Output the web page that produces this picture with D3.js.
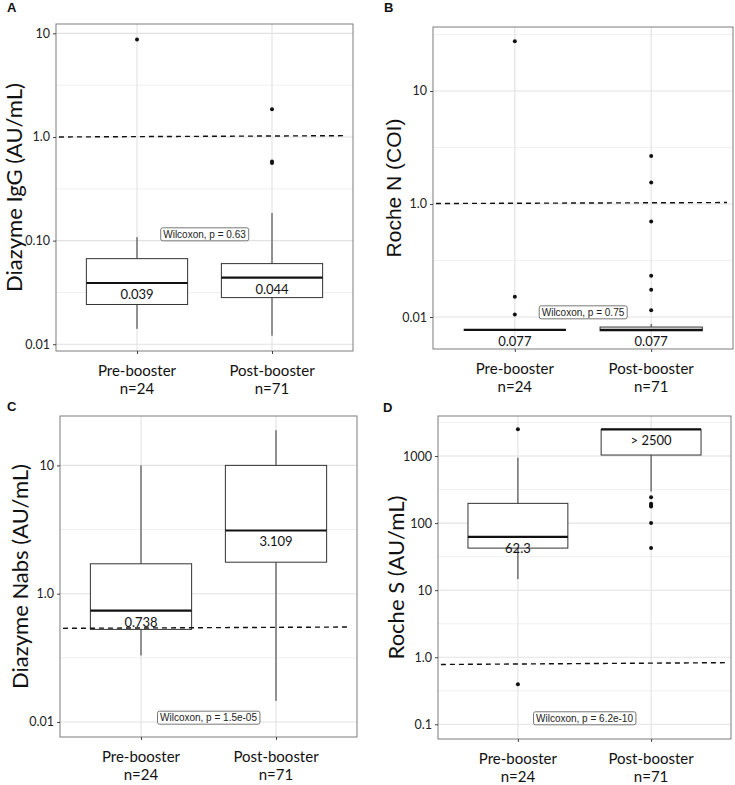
<!DOCTYPE html>
<html><head><meta charset="utf-8">
<script src="https://cdn.jsdelivr.net/npm/d3@7"></script>
<style>body{margin:0;background:#fff;} svg{display:block;}</style>
</head><body>
<svg id="chart" width="735" height="785"></svg>
<script>
// ---------- shared ----------
const categories = ["Pre-booster", "Post-booster"];
const groupSizes = ["n=24", "n=71"];

// ---------- Panel A: Diazyme IgG ----------
const iggLowerWhisker = [0.0141, 0.0121];
const iggQ1 = [0.0242, 0.0282];
const iggMedian = [0.039, 0.044];
const iggQ3 = [0.067, 0.060];
const iggUpperWhisker = [0.108, 0.185];
const iggOutliers = [[8.7], [1.85, 0.58, 0.56]];
const iggMedianLabels = ["0.039", "0.044"];
const iggCutoff = [1.0, 1.03];
const iggTicks = [10, 1, 0.1, 0.01];
const iggTickLabels = ["10", "1.0", "0.10", "0.01"];
const iggTest = "Wilcoxon, p = 0.63";
const iggTestY = 0.115;

// ---------- Panel B: Roche N ----------
const rocheNLowerWhisker = [0.077, 0.0755];
const rocheNQ1 = [0.077, 0.0755];
const rocheNMedian = [0.077, 0.077];
const rocheNQ3 = [0.077, 0.0815];
const rocheNUpperWhisker = [0.077, 0.0867];
const rocheNOutliers = [[27.5, 0.151, 0.105], [2.66, 1.55, 0.70, 0.232, 0.174, 0.115]];
const rocheNMedianLabels = ["0.077", "0.077"];
const rocheNCutoff = [1.01, 1.03];
const rocheNTicks = [10, 1, 0.1];
const rocheNTickLabels = ["10", "1.0", "0.01"];
const rocheNTest = "Wilcoxon, p = 0.75";
const rocheNTestY = 0.11;

// ---------- Panel C: Diazyme Nabs ----------
const nabsLowerWhisker = [0.33, 0.146];
const nabsQ1 = [0.527, 1.76];
const nabsMedian = [0.738, 3.109];
const nabsQ3 = [1.71, 10];
const nabsUpperWhisker = [10, 18.8];
const nabsOutliers = [[], []];
const nabsMedianLabels = ["0.738", "3.109"];
const nabsCutoff = [0.537, 0.55];
const nabsTicks = [10, 1, 0.1];
const nabsTickLabels = ["10", "1.0", "0.01"];
const nabsTest = "Wilcoxon, p = 1.5e-05";
const nabsTestY = 0.108;

// ---------- Panel D: Roche S ----------
const rocheSLowerWhisker = [14.6, 295];
const rocheSQ1 = [42.4, 1035];
const rocheSMedian = [62.3, 2500];
const rocheSQ3 = [197, 2500];
const rocheSUpperWhisker = [944, 2500];
const rocheSOutliers = [[2510, 0.395], [244, 194, 186, 177, 100, 42.7]];
const rocheSMedianLabels = ["62.3", "> 2500"];
const rocheSCutoff = [0.78, 0.83];
const rocheSTicks = [1000, 100, 10, 1, 0.1];
const rocheSTickLabels = ["1000", "100", "10", "1.0", "0.1"];
const rocheSTest = "Wilcoxon, p = 6.2e-10";
const rocheSTestY = 0.123;

// ---------- drawing ----------
const svg = d3.select("#chart");
const CAL = "Lato, 'Open Sans', sans-serif";
const ARIAL = "'Liberation Sans', Arial, sans-serif";

function panel(cfg) {
  const {frame, logDomain} = cfg;
  const g = svg.append("g");
  const x = d3.scalePoint().domain(categories).range([frame.left, frame.right]).padding(0.6);
  const y = d3.scaleLog().domain([Math.pow(10, logDomain[0]), Math.pow(10, logDomain[1])])
              .range([frame.bottom, frame.top]);
  const step = x.step();
  const bw = step * 0.75;

  // minor grid
  const minors = [];
  for (let k = Math.floor(logDomain[0]) - 1; k <= Math.ceil(logDomain[1]); k++) {
    const v = k + 0.5;
    if (v > logDomain[0] && v < logDomain[1]) minors.push(Math.pow(10, v));
  }
  g.selectAll(".minor").data(minors).join("line")
    .attr("x1", frame.left).attr("x2", frame.right)
    .attr("y1", d => y(d)).attr("y2", d => y(d))
    .attr("stroke", "#f1f1f1").attr("stroke-width", 1);
  // major grid
  g.selectAll(".majorY").data(cfg.ticks).join("line")
    .attr("x1", frame.left).attr("x2", frame.right)
    .attr("y1", d => y(d)).attr("y2", d => y(d))
    .attr("stroke", "#e2e2e2").attr("stroke-width", 1.1);
  g.selectAll(".majorX").data(categories).join("line")
    .attr("x1", d => x(d)).attr("x2", d => x(d))
    .attr("y1", frame.top).attr("y2", frame.bottom)
    .attr("stroke", "#e2e2e2").attr("stroke-width", 1.1);

  // boxes
  categories.forEach((c, i) => {
    const cx = x(c);
    const bg = g.append("g");
    bg.append("line").attr("x1", cx).attr("x2", cx)
      .attr("y1", y(cfg.q3[i])).attr("y2", y(cfg.upper[i]))
      .attr("stroke", "#333").attr("stroke-width", 1);
    bg.append("line").attr("x1", cx).attr("x2", cx)
      .attr("y1", y(cfg.q1[i])).attr("y2", y(cfg.lower[i]))
      .attr("stroke", "#333").attr("stroke-width", 1);
    bg.append("rect").attr("x", cx - bw / 2).attr("width", bw)
      .attr("y", y(cfg.q3[i])).attr("height", Math.max(0, y(cfg.q1[i]) - y(cfg.q3[i])))
      .attr("fill", "#fff").attr("stroke", "#333").attr("stroke-width", 1);
    bg.append("line").attr("x1", cx - bw / 2).attr("x2", cx + bw / 2)
      .attr("y1", y(cfg.median[i])).attr("y2", y(cfg.median[i]))
      .attr("stroke", "#111").attr("stroke-width", 2.2);
    bg.selectAll("circle").data(cfg.outliers[i]).join("circle")
      .attr("cx", cx).attr("cy", d => y(d)).attr("r", 2).attr("fill", "#111");
    bg.append("text").attr("x", cx).attr("y", y(cfg.median[i]) + 16)
      .attr("text-anchor", "middle").attr("font-family", CAL).attr("font-size", 13)
      .attr("fill", "#111").text(cfg.medianLabels[i]);
  });

  // cutoff line
  const w = frame.right - frame.left;
  g.append("line")
    .attr("x1", frame.left + 0.01 * w).attr("x2", frame.right - 0.02 * w)
    .attr("y1", y(cfg.cutoff[0])).attr("y2", y(cfg.cutoff[1]))
    .attr("stroke", "#111").attr("stroke-width", 1.4).attr("stroke-dasharray", "5,4");

  // test label
  const tx = (x(categories[0]) + x(categories[1])) / 2;
  const ty = y(cfg.testY);
  const tl = g.append("g");
  const txt = tl.append("text").attr("x", tx).attr("y", ty + 3.5)
    .attr("text-anchor", "middle").attr("font-family", ARIAL).attr("font-size", 10)
    .attr("fill", "#222").text(cfg.test);
  const bb = txt.node().getBBox();
  tl.insert("rect", "text").attr("x", bb.x - 2.5).attr("y", ty - 6.5)
    .attr("width", bb.width + 5).attr("height", 13).attr("rx", 2)
    .attr("fill", "#fff").attr("stroke", "#555").attr("stroke-width", 0.8);

  // border
  g.append("rect").attr("x", frame.left).attr("y", frame.top)
    .attr("width", w).attr("height", frame.bottom - frame.top)
    .attr("fill", "none").attr("stroke", "#7d7d7d").attr("stroke-width", 1);

  // y axis
  const ya = g.append("g").attr("transform", `translate(${frame.left},0)`)
    .call(d3.axisLeft(y).tickValues(cfg.ticks).tickSize(3).tickPadding(3)
      .tickFormat((d, i) => cfg.tickLabels[i]));
  ya.select(".domain").remove();
  ya.selectAll("line").attr("stroke", "#444");
  ya.selectAll("text").attr("font-family", CAL).attr("font-size", 12.5).attr("fill", "#222");

  // x axis
  const xa = g.append("g").attr("transform", `translate(0,${frame.bottom})`)
    .call(d3.axisBottom(x).tickSize(3).tickFormat(""));
  xa.select(".domain").remove();
  xa.selectAll("line").attr("stroke", "#444");
  categories.forEach((c, i) => {
    g.append("text").attr("x", x(c)).attr("y", frame.bottom + 25)
      .attr("text-anchor", "middle").attr("font-family", CAL).attr("font-size", 15)
      .attr("fill", "#111").text(c);
    g.append("text").attr("x", x(c)).attr("y", frame.bottom + 43)
      .attr("text-anchor", "middle").attr("font-family", CAL).attr("font-size", 15)
      .attr("fill", "#111").text(groupSizes[i]);
  });

  // y title
  g.append("text")
    .attr("transform", `translate(${cfg.titleX},${(frame.top + frame.bottom) / 2}) rotate(-90)`)
    .attr("text-anchor", "middle").attr("font-family", cfg.titleFont)
    .attr("font-size", cfg.titleSize).attr("fill", "#111").text(cfg.title);

  // panel letter
  g.append("text").attr("x", cfg.letterPos[0]).attr("y", cfg.letterPos[1])
    .attr("font-family", ARIAL).attr("font-weight", "bold").attr("font-size", 13)
    .attr("fill", "#111").text(cfg.letter);
}

panel({
  letter: "A", letterPos: [7, 12],
  title: "Diazyme IgG (AU/mL)", titleFont: CAL, titleSize: 22, titleX: 22,
  frame: {left: 56, right: 353, top: 24, bottom: 351}, logDomain: [-2.065, 1.09],
  lower: iggLowerWhisker, q1: iggQ1, median: iggMedian, q3: iggQ3, upper: iggUpperWhisker,
  outliers: iggOutliers, medianLabels: iggMedianLabels, cutoff: iggCutoff,
  ticks: iggTicks, tickLabels: iggTickLabels, test: iggTest, testY: iggTestY
});
panel({
  letter: "B", letterPos: [384, 12],
  title: "Roche N (COI)", titleFont: ARIAL, titleSize: 21, titleX: 401,
  frame: {left: 433, right: 733, top: 27, bottom: 349}, logDomain: [-1.283, 1.566],
  lower: rocheNLowerWhisker, q1: rocheNQ1, median: rocheNMedian, q3: rocheNQ3, upper: rocheNUpperWhisker,
  outliers: rocheNOutliers, medianLabels: rocheNMedianLabels, cutoff: rocheNCutoff,
  ticks: rocheNTicks, tickLabels: rocheNTickLabels, test: rocheNTest, testY: rocheNTestY
});
panel({
  letter: "C", letterPos: [7, 411],
  title: "Diazyme Nabs (AU/mL)", titleFont: CAL, titleSize: 22, titleX: 28,
  frame: {left: 60, right: 357, top: 416, bottom: 737}, logDomain: [-1.117, 1.385],
  lower: nabsLowerWhisker, q1: nabsQ1, median: nabsMedian, q3: nabsQ3, upper: nabsUpperWhisker,
  outliers: nabsOutliers, medianLabels: nabsMedianLabels, cutoff: nabsCutoff,
  ticks: nabsTicks, tickLabels: nabsTickLabels, test: nabsTest, testY: nabsTestY
});
panel({
  letter: "D", letterPos: [383, 412],
  title: "Roche S (AU/mL)", titleFont: CAL, titleSize: 22, titleX: 404,
  frame: {left: 438, right: 731, top: 416, bottom: 739}, logDomain: [-1.219, 3.597],
  lower: rocheSLowerWhisker, q1: rocheSQ1, median: rocheSMedian, q3: rocheSQ3, upper: rocheSUpperWhisker,
  outliers: rocheSOutliers, medianLabels: rocheSMedianLabels, cutoff: rocheSCutoff,
  ticks: rocheSTicks, tickLabels: rocheSTickLabels, test: rocheSTest, testY: rocheSTestY
});
</script>
</body></html>
